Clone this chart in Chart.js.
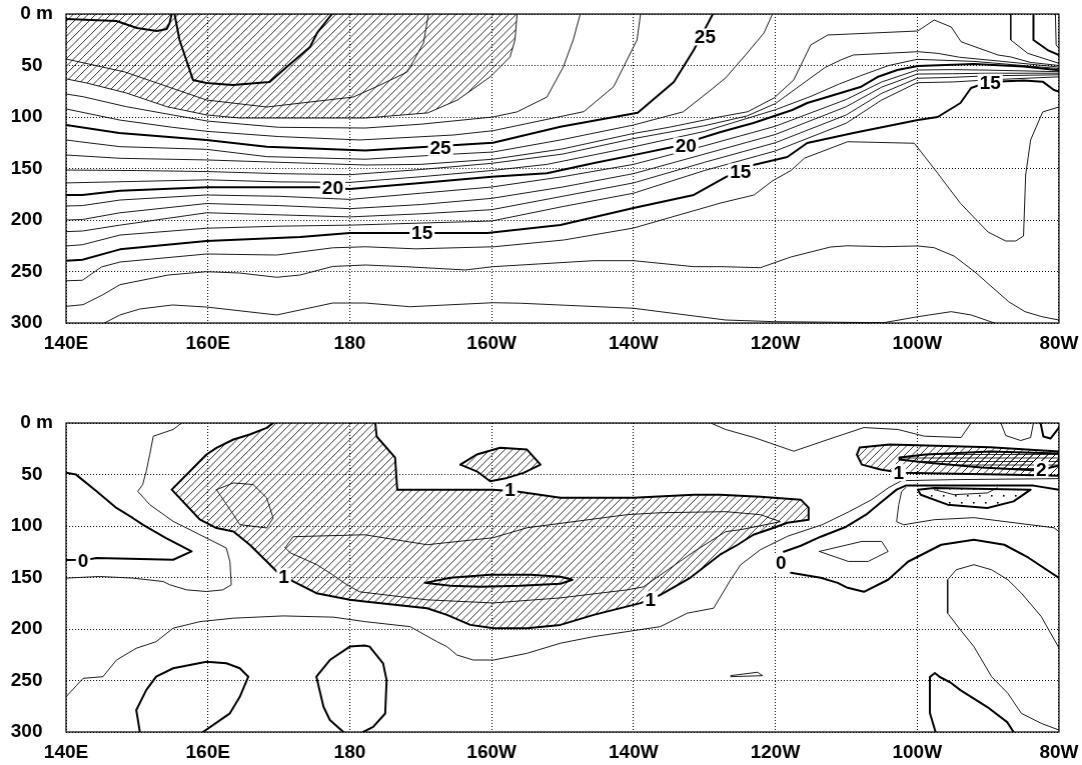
<!DOCTYPE html>
<html>
<head>
<meta charset="utf-8">
<script src="https://cdn.jsdelivr.net/npm/chart.js@4.4.0/dist/chart.umd.min.js"></script>
<style>
  html, body { margin: 0; padding: 0; background: #fff; overflow: hidden; }
  #wrap { position: relative; width: 1082px; height: 765px; overflow: hidden; }
  .panel { position: absolute; left: 0; }
</style>
</head>
<body>
<div id="wrap">
  <div class="panel" id="upperBox" style="top:0px;height:382px;width:1082px"><canvas id="upper"></canvas></div>
  <div class="panel" id="lowerBox" style="top:382px;height:383px;width:1082px"><canvas id="lower"></canvas></div>
</div>
<script>
// ---- axes ----
const lonTickValues = [140, 160, 180, 200, 220, 240, 260, 280];
const lonTickLabels = ['140E', '160E', '180', '160W', '140W', '120W', '100W', '80W'];
const depthTickValues = [0, 50, 100, 150, 200, 250, 300];
const depthTickLabels = ['0 m', '50  ', '100  ', '150  ', '200  ', '250  ', '300  '];

// ---- upper panel: temperature (deg C), points are [longitude east, depth m] ----
const temp30a = [[140,4.9],[147.1,6.8],[150,13.6],[152.8,16.5],[154.2,14.6],[154.6,8.7],[154.9,0]];
const temp30b = [[155.3,0],[156,25.2],[157.9,64],[159.8,67],[163.5,69],[168.7,66],[171.1,51.5],[174.4,32],[175.4,18.4],[177.5,0]];
const temp29 = [[140,43.7],[148.3,56.3],[159.8,83.5],[168.3,90.3],[180.5,80.6],[182.2,75.4],[184.3,68.9],[188.1,56.3],[190.4,28.2],[191.1,0]];
const temp28 = [[140,63],[142.9,67],[148.5,76.7],[154.2,90],[159.8,98],[164.5,101],[173,101],[182.2,101],[191,96],[195.2,83.5],[199.8,61],[202.6,41.7],[203.3,25],[203.6,0]];
const temp27 = [[140,77.7],[142.4,80.3],[148.5,90],[155,98],[160,104],[170,110],[182.2,110.7],[190,107],[200.2,100],[203.6,95],[207.8,80.6],[210.1,51.5],[211.5,25.2],[212.5,0]];
const temp26 = [[140,92.2],[147.6,103],[155,110],[160,114],[170,119],[181.4,122.3],[194.6,117.5],[200.2,113.3],[213,94.8],[217.2,70.6],[220.5,25.2],[221,0]];
const temp25 = [[140,107.8],[147.5,115.5],[159.8,122.3],[168.3,128.8],[182.2,132.5],[191,129],[200.2,125],[209.7,109.4],[220.6,95.8],[225.7,66],[228.5,35],[231.2,0]];
const temp24 = [[140,122.3],[141.9,124],[147.6,128.8],[159.8,131.4],[168.3,138.5],[182.2,141],[194.6,136],[200.2,134],[209.7,122.3],[220,107.8],[227,95],[230.9,73.8],[233,62],[235.8,39.8],[238.4,18.4],[239.6,0]];
const temp23 = [[140,136.9],[147.6,140.1],[159.8,141.7],[170,144],[182.2,146.6],[190,146],[200.2,141],[210,131],[220,116],[225,110],[232.3,99.7],[236.1,94.9],[239.8,81.6],[242.6,64],[245,30],[247.4,20.4],[260.1,16.5],[262.4,5.8],[264.8,12.6],[266.2,27],[271.4,39.8],[273.2,41.7],[276,47],[280,50]];
const temp22 = [[140,151.5],[150,152],[160,153],[170,155],[180,156],[190,151],[200,145],[210,136],[220,121],[230,108.5],[236,99],[240,87],[243,72],[245,62],[247,52],[249.2,44.7],[251,39.8],[260.1,36.6],[262.9,38.2],[266,42],[272,46],[280,51.5]];
const temp21 = [[140,164],[150,162.5],[160,161],[170,163],[180,163.5],[190,158],[200,152],[207.8,146],[220,129],[230,114],[240,93],[245,80],[249,68],[252,60],[256,50],[260,44],[268,46],[280,53]];
const temp20 = [[140,175.7],[142.3,175.7],[147.6,171.5],[159.8,168.3],[175.4,168.2],[180,170],[190,164],[200,158],[207.8,154.7],[214.3,145],[220,137],[225.7,128.8],[232.3,114.6],[236.9,105.8],[242.4,93.2],[244.5,86.4],[252,70.9],[254.4,61.2],[257.2,54.4],[260.1,50.5],[268,48.5],[275,51],[280,54.5]];
const temp19 = [[140,186.4],[142.3,186],[147.6,180.6],[159.8,175.7],[170,177],[180,180],[190,174],[200,168],[210,158],[220,146],[230,128],[240,109],[250,83],[255,66],[260,54.4],[265,54],[270,54.5],[280,56]];
const temp18 = [[140,200],[142.3,199.5],[147.6,193],[159.8,184],[170,186],[180,189],[190,185],[200,179],[210,168],[220,155],[230,136],[240,117],[250,90],[255,71],[260,58.3],[265,58],[270,57.5],[280,57.5]];
const temp17 = [[140,211.3],[142.3,210.7],[147.6,205],[159.8,193],[170,195],[180,197],[190,194],[200,190],[210,177],[220,164],[230,144],[240,125],[250,98],[255,77],[260,62.4],[265,61.5],[270,60],[280,59]];
const temp16 = [[140,225.2],[142.3,224],[147.6,214.6],[159.8,208],[170,206],[180,205],[190,203],[200,201],[210,187],[220,174],[230,152],[240,133],[250,106],[255,83.5],[260,66.7],[265,66],[270,64],[280,61]];
const temp15 = [[140,239.5],[142.3,238.6],[147.6,228.5],[159.8,220.4],[173,216.5],[180,212.6],[192.3,212.6],[199.4,212.6],[209.7,204.9],[220,188.4],[228.5,175.7],[233,158.3],[236.9,146.6],[241.7,138.8],[244.5,125.2],[251,115.5],[260.1,102.9],[262.9,100],[266.1,86.4],[267.6,71.8],[270,66],[275,64.5],[277.7,65.7],[279.3,73.8],[280,75.4]];
const temp14 = [[140,259],[142.3,258.5],[145,245.6],[147.6,240.8],[159.8,233],[169.7,234],[177.6,227],[182.2,226],[189.3,228],[200.3,226],[210.2,219.4],[220,207.8],[232.3,183.5],[237,175.7],[239.6,162],[242.2,152],[244.1,140],[250.2,124],[259.6,125.5],[262.9,154.6],[266.1,183.8],[270,211.7],[272.5,220.4],[273.9,220.4],[275,215.5],[275.3,156.3],[276,122.3],[277.7,95.1],[280,90.3]];
const temp13 = [[140,283.8],[142.4,282.2],[145.2,272.5],[147.6,262.8],[154.4,253.4],[159.8,250.2],[164.5,251.5],[169.7,255.6],[173,253.4],[177.6,245.1],[182.2,243.7],[187.8,245.3],[196.3,248.5],[200.2,245.3],[214.4,239.5],[220,239.5],[228.5,245.3],[232.3,245.3],[237.9,246.3],[242.2,235.9],[247.8,226.2],[250.2,225],[255.3,225.9],[260.1,225.2],[262.4,226.9],[265.2,235],[268.1,250.2],[272.9,279.3],[275.2,289],[277.6,293.9],[280,297.1]];
const temp12 = [[145.4,300],[147.6,292.2],[150.4,286.4],[155,282.5],[159.8,284.5],[169.7,292.2],[177.6,280.6],[182.2,280.6],[188.5,284.2],[200.2,280.3],[204,280.8],[220,285.7],[233,297.1],[239.8,298.7],[255.3,299.7],[260.1,293.9],[264.8,289],[267.6,292.2],[270.9,300]];
const coastInner = [[273.2,0],[273.2,25.2],[275.6,38.2],[280,47.9]];
const coastMiddle = [[276.4,0],[276.4,25.2],[278.4,35],[280,39.8]];
const coastOuter = [[279.5,0],[279.6,30.1],[280,33.3]];

const upperLabels = [
  { text: '25', lon: 192.8, depth: 129.5 },
  { text: '25', lon: 230.1, depth: 22.3 },
  { text: '20', lon: 177.6, depth: 168.5 },
  { text: '20', lon: 227.4, depth: 128 },
  { text: '15', lon: 190.2, depth: 212.6 },
  { text: '15', lon: 235.1, depth: 153.4 },
  { text: '15', lon: 270.3, depth: 66.3 }
];

// ---- lower panel: difference field, points are [longitude east, depth m] ----
const diffOneMain = [[169.2,0],[168.3,4.7],[165.9,11.2],[163.6,16],[161.2,24.1],[159.8,30.6],[154.9,64.7],[158.9,93.9],[161.2,102],[163.6,105.3],[165.9,118.2],[168.3,134.4],[169.7,144.2],[171.6,152.2],[175.3,165.2],[180,171.7],[182.1,173.4],[190.9,179.8],[193.7,186.3],[197,196],[200.3,199.2],[205,199.2],[209.7,196],[214.4,186.3],[220,176.6],[221,174.9],[223.8,166.8],[228,150.3],[232.2,127.9],[234.7,118.2],[236.9,108.5],[239.8,101.7],[241.7,96.8],[244.7,93.9],[244.7,82.2],[243.6,74.4],[237.9,71.5],[232.2,69.6],[228.5,69.6],[220,72.5],[209.7,72.5],[203.6,66.6],[200.2,64.7],[186.7,64.7],[186.4,33.6],[183.8,13.1],[183.6,0]];
const diffOneBlob = [[195.6,40.4],[197.9,30.6],[201.2,24.1],[205,25.8],[206.9,40.4],[204.5,48.4],[202.2,53.3],[199.8,56.6],[197.9,46.9],[195.6,40.4]];
const diffOneEast = [[251.9,23.8],[256.1,20.9],[270.3,23.5],[280,27.7],[280,51.1],[271.8,50.1],[263.4,49.1],[257.8,48.2],[255,45.3],[252.2,40.4],[251.5,30.6],[251.9,23.8]];
const diffTwoEast = [[257.5,33.6],[261.2,30.6],[270.3,27.7],[280,29.7],[280,41.3],[277.1,46.2],[269.1,43.3],[261.2,38.4],[257.5,35.5],[257.5,33.6]];
const diffTwoCore = [[190.6,155.2],[194.2,150.3],[199.8,147.4],[205.5,147.4],[209.7,149.3],[211.4,152.2],[209.7,156.1],[204,158.1],[198.4,159.1],[194.2,158.1],[190.6,155.2]];
const diffHalfInner = [[170.9,121.1],[172,110.4],[182.1,108.5],[190.9,118.2],[200.2,111.4],[205,101.7],[219.1,89],[223.8,87.1],[233,86.1],[237.9,89],[240.7,95.8],[237.9,99.7],[235.1,103.6],[233,105.5],[228.5,125],[221.4,159.1],[219.1,162],[209.7,169.8],[200.2,174.7],[190.9,171.7],[181.4,163.9],[179.6,157.1],[177.6,147.4],[175.4,137.7],[171.6,126],[170.9,121.1]];
const diffHalfWestLoop = [[161.2,64.7],[163.6,58.2],[166.4,59.8],[168.3,72.8],[169.2,92.2],[168.3,101.9],[164.5,98.7],[163.6,89],[161.2,64.7]];
const diffZeroWest = [[140,48.4],[141.4,50.1],[144.3,66.3],[147.1,82.5],[149.4,92.2],[150.8,98.7],[154.1,111.7],[157.7,124.7],[155.1,132.8],[144.3,131.1],[142.9,132.8],[140,133]];
const diffHalfWest = [[156.3,0],[155.1,6.3],[152.3,12.8],[151.8,30.6],[151.3,46.9],[150.8,59.8],[150.1,66.3],[151.8,79.3],[155.1,95.5],[157,102],[162.6,121.4],[163.1,134.4],[163.3,157.1],[162.1,162],[159.8,163.6],[157,162],[154.6,157],[153.7,153.9],[149.4,150.6],[144.7,149],[140,150.6]];
const diffHalfDeep = [[140,265.8],[142.4,247.9],[145.2,246.3],[147.1,230.2],[149.9,218.7],[152.7,212.3],[155.1,199.2],[158.9,192.8],[163.6,189.5],[170.6,187.3],[177.7,188.5],[182.1,192.8],[188.5,197.7],[192.3,212.3],[193.7,217.1],[195.1,225.2],[197.4,230.1],[200.3,230.1],[205,223.6],[209.7,213.8],[214.4,207.4],[223.8,197.7],[227.6,184.6],[231.3,179.8],[233,160.3],[233.7,152.2],[235.1,137.7],[237.9,123],[241.7,110],[246.6,98.8],[250.4,86.1],[253.6,74.4],[256,62.7],[257.8,56],[265,55],[280,54]];
const diffZeroUpper = [[241.2,125],[243.6,119.2],[246.4,110.4],[250,100.7],[252.8,89],[255,76.4],[257.1,64.7],[258.4,60.8],[266.1,60.8],[276.4,60.8],[280,64.7]];
const diffZeroLower = [[242.2,145.4],[246.4,150.3],[248.8,155.2],[250.2,160],[252.5,163.9],[255.9,152.2],[258.7,134.7],[263.4,118.2],[268,113.3],[272.3,118.2],[275.7,130.8],[280,150.3]];
const diffMinusOne = [[260.1,64.7],[262.4,63],[276,64.7],[273.6,76.1],[269.9,82.5],[264.3,79.3],[260.5,69.6],[260.1,64.7]];
const diffMinusOneInner = [[262.4,64.7],[265.2,69.6],[269.9,67.9],[271.3,63]];
const diffMinusHalf = [[258.4,62.7],[257.8,66.6],[257.4,79.3],[257.1,95.8],[258.1,98.8],[262.4,93.9],[268,91.9],[279.3,101.7],[280,105.6]];
const diffMinusHalfLoop = [[246.2,124.7],[252.2,115],[255,115],[255.9,124.7],[253.1,134.4],[250.3,134.4],[246.2,124.7]];
const diffHalfSurface = [[230.9,0],[233,6.3],[237,14.1],[242.6,27.4],[247.4,16.1],[252.5,4.4],[257.3,6.3],[261,12.8],[266.2,14.1],[267.6,0]];
const diffHalfCoast = [[271.8,0],[272.5,12.2],[274.6,17],[276,14.1],[276.4,0]];
const diffZeroCoast = [[277.4,0],[277.8,13.1],[278.8,15.1],[280,4.4]];
const diffHalfArch = [[280,218.4],[277.5,187.9],[274.7,165.2],[272.8,152.2],[270.5,142.5],[268,137.6],[265.5,142.5],[264.3,152.2],[264.3,184.6],[266.1,200.9],[268,217.1],[270.5,246.3],[272.8,262.5],[274.7,281.9],[277.5,291.6],[280,298.1]];
const diffZeroBottomEast = [[262.6,300],[261.8,281.6],[261.8,246.6],[262.5,242.7],[263.2,246.6],[264.6,251.5],[266.1,259.3],[269.9,275.8],[272.7,290.4],[273.6,300]];
const diffZeroCellA = [[150.4,300],[149.9,278.7],[151.3,259.3],[152.7,246.3],[155.1,238.1],[159.8,231.7],[162.6,233.3],[164.5,238.1],[165.7,246.3],[164.5,265.8],[163.1,281.9],[159.3,300]];
const diffZeroCellB = [[179.1,300],[177.2,288.3],[176.3,275.5],[175.3,246.3],[177.2,230.1],[180,217.1],[182.1,216.1],[182.8,217.1],[184.7,233.3],[185.2,249.6],[185,282],[183.3,295],[181.9,300]];
const diffHalfSliver = [[233.7,245.3],[237.5,242],[238.2,245.3],[233.7,246.3]];

const lowerLabels = [
  { text: '0', lon: 142.4, depth: 133.5 },
  { text: '1', lon: 170.7, depth: 149.3 },
  { text: '1', lon: 202.6, depth: 64.7 },
  { text: '1', lon: 222.4, depth: 171.7 },
  { text: '0', lon: 240.8, depth: 135.7 },
  { text: '1', lon: 257.4, depth: 48.2 },
  { text: '2', lon: 277.5, depth: 45.2 }
];

// ---- drawing helpers ----
const FONT = "'Liberation Sans', Arial, Helvetica, sans-serif";

function contour(points, thick) {
  return {
    data: points.map(p => ({ x: p[0], y: p[1] })),
    showLine: true,
    borderColor: '#000',
    borderWidth: thick ? 2 : 0.9,
    pointRadius: 0,
    pointHoverRadius: 0,
    fill: false,
    tension: 0,
    borderJoinStyle: 'round',
    borderCapStyle: 'round'
  };
}

// fills closed regions with hatch / cross-hatch / stipple patterns
const shadingPlugin = {
  id: 'shading',
  beforeDatasetsDraw(chart, args, opts) {
    const { ctx, chartArea: a, scales } = chart;
    const xs = scales.x, ys = scales.y;
    ctx.save();
    ctx.beginPath();
    ctx.rect(a.left, a.top, a.right - a.left, a.bottom - a.top);
    ctx.clip();
    (opts.regions || []).forEach(r => {
      ctx.save();
      ctx.beginPath();
      r.points.forEach((p, i) => {
        const px = xs.getPixelForValue(p[0]), py = ys.getPixelForValue(p[1]);
        if (i === 0) ctx.moveTo(px, py); else ctx.lineTo(px, py);
      });
      ctx.closePath();
      ctx.clip();
      ctx.strokeStyle = '#000';
      ctx.fillStyle = '#000';
      const H = a.bottom - a.top;
      if (r.kind === 'hatch' || r.kind === 'cross') {
        ctx.lineWidth = 0.8;
        ctx.beginPath();
        for (let k = a.left - H; k < a.right + 2; k += 7.5) {
          ctx.moveTo(k, a.bottom);
          ctx.lineTo(k + H, a.top);
        }
        ctx.stroke();
      }
      if (r.kind === 'cross') {
        ctx.lineWidth = 0.8;
        ctx.beginPath();
        for (let y = a.top; y < a.bottom; y += 3.5) {
          ctx.moveTo(a.left, y);
          ctx.lineTo(a.right, y);
        }
        ctx.stroke();
      }
      if (r.kind === 'dots') {
        let row = 0;
        for (let y = a.top + 2; y < a.bottom; y += 7, row++) {
          for (let x = a.left + (row % 2 ? 6 : 0); x < a.right; x += 12) {
            ctx.fillRect(x, y, 1.6, 1.6);
          }
        }
      }
      ctx.restore();
    });
    ctx.restore();
  }
};

// contour value labels on white boxes
const labelPlugin = {
  id: 'contourLabels',
  afterDatasetsDraw(chart, args, opts) {
    const { ctx, scales } = chart;
    ctx.save();
    ctx.font = 'bold 19px ' + FONT;
    ctx.textAlign = 'center';
    ctx.textBaseline = 'middle';
    (opts.labels || []).forEach(l => {
      const px = scales.x.getPixelForValue(l.lon);
      const py = scales.y.getPixelForValue(l.depth);
      const w = ctx.measureText(l.text).width + 4;
      ctx.fillStyle = '#fff';
      ctx.fillRect(px - w / 2, py - 8.5, w, 17);
      ctx.fillStyle = '#000';
      ctx.fillText(l.text, px, py + 1);
    });
    ctx.restore();
  }
};

// solid frame round the plot area
const framePlugin = {
  id: 'frame',
  afterDraw(chart) {
    const { ctx, chartArea: a } = chart;
    ctx.save();
    ctx.strokeStyle = '#000';
    ctx.lineWidth = 1.2;
    ctx.strokeRect(a.left, a.top, a.right - a.left, a.bottom - a.top);
    ctx.restore();
  }
};

function makePanel(id, datasets, regions, labels, xHeight) {
  return new Chart(document.getElementById(id), {
    type: 'scatter',
    data: { datasets },
    options: {
      responsive: true,
      maintainAspectRatio: false,
      animation: false,
      events: [],
      layout: { padding: { top: 30, right: 24, left: 0, bottom: 0 } },
      plugins: {
        legend: { display: false },
        tooltip: { enabled: false },
        shading: { regions },
        contourLabels: { labels }
      },
      scales: {
        x: {
          type: 'linear',
          min: 140, max: 280,
          afterFit(scale) { scale.height = xHeight; },
          afterBuildTicks(scale) { scale.ticks = lonTickValues.map(v => ({ value: v })); },
          ticks: {
            autoSkip: false, maxRotation: 0, padding: 9,
            color: '#000',
            font: { family: FONT, size: 19, weight: 'bold' },
            callback: v => lonTickLabels[lonTickValues.indexOf(v)]
          },
          grid: { color: '#000', lineWidth: 1, drawTicks: false },
          border: { display: false, dash: [1, 2] }
        },
        y: {
          type: 'linear',
          reverse: true,
          min: 0, max: 300,
          afterFit(scale) { scale.width = 66; },
          afterBuildTicks(scale) { scale.ticks = depthTickValues.map(v => ({ value: v })); },
          ticks: {
            autoSkip: false, padding: 13,
            color: '#000',
            font: { family: FONT, size: 19, weight: 'bold' },
            callback: v => depthTickLabels[depthTickValues.indexOf(v)]
          },
          grid: { color: '#000', lineWidth: 1, drawTicks: false },
          border: { display: false, dash: [1, 2] }
        }
      }
    },
    plugins: [shadingPlugin, labelPlugin, framePlugin]
  });
}

// move/resize a panel's holder so that its plot frame lands on the wanted page box
function placePanel(chart, holder, box) {
  for (let i = 0; i < 4; i++) {
    const a = chart.chartArea;
    const top = parseFloat(holder.style.top);
    const h = parseFloat(holder.style.height);
    const w = parseFloat(holder.style.width);
    const dTop = box.top - (top + a.top);
    const dBottom = box.bottom - (top + a.bottom);
    const dRight = box.right - a.right;
    if (Math.abs(dTop) < 0.5 && Math.abs(dBottom) < 0.5 && Math.abs(dRight) < 0.5) break;
    holder.style.top = (top + dTop) + 'px';
    holder.style.height = (h + dBottom - dTop) + 'px';
    holder.style.width = (w + dRight) + 'px';
    chart.resize();
  }
}

const upperSets = [
  contour(temp30a, true), contour(temp30b, true),
  contour(temp29, false), contour(temp28, false), contour(temp27, false), contour(temp26, false),
  contour(temp25, true), contour(temp24, false), contour(temp23, false), contour(temp22, false),
  contour(temp21, false), contour(temp20, true), contour(temp19, false), contour(temp18, false),
  contour(temp17, false), contour(temp16, false), contour(temp15, true), contour(temp14, false),
  contour(temp13, false), contour(temp12, false),
  contour(coastInner, false), contour(coastMiddle, true), contour(coastOuter, false)
];
const upperRegions = [{ kind: 'hatch', points: temp28.concat([[140, 0]]) }];

const lowerSets = [
  contour(diffOneMain, true), contour(diffOneBlob, true), contour(diffOneEast, true),
  contour(diffTwoEast, true), contour(diffTwoCore, true), contour(diffHalfInner, false),
  contour(diffHalfWestLoop, false), contour(diffZeroWest, true), contour(diffHalfWest, false),
  contour(diffHalfDeep, false), contour(diffZeroUpper, true), contour(diffZeroLower, true),
  contour(diffMinusOne, true), contour(diffMinusOneInner, false), contour(diffMinusHalf, false),
  contour(diffMinusHalfLoop, false), contour(diffHalfSurface, false), contour(diffHalfCoast, false),
  contour(diffZeroCoast, true), contour(diffHalfArch, false), contour(diffZeroBottomEast, true),
  contour(diffZeroCellA, true), contour(diffZeroCellB, true), contour(diffHalfSliver, false)
];
const lowerRegions = [
  { kind: 'hatch', points: diffOneMain },
  { kind: 'hatch', points: diffOneBlob },
  { kind: 'hatch', points: diffOneEast },
  { kind: 'cross', points: diffTwoEast },
  { kind: 'dots', points: diffMinusOne }
];

const upperChart = makePanel('upper', upperSets, upperRegions, upperLabels, 59);
const lowerChart = makePanel('lower', lowerSets, lowerRegions, lowerLabels, 33);
placePanel(upperChart, document.getElementById('upperBox'), { top: 14, bottom: 323, right: 1058 });
placePanel(lowerChart, document.getElementById('lowerBox'), { top: 423, bottom: 732, right: 1058 });
</script>
</body>
</html>
